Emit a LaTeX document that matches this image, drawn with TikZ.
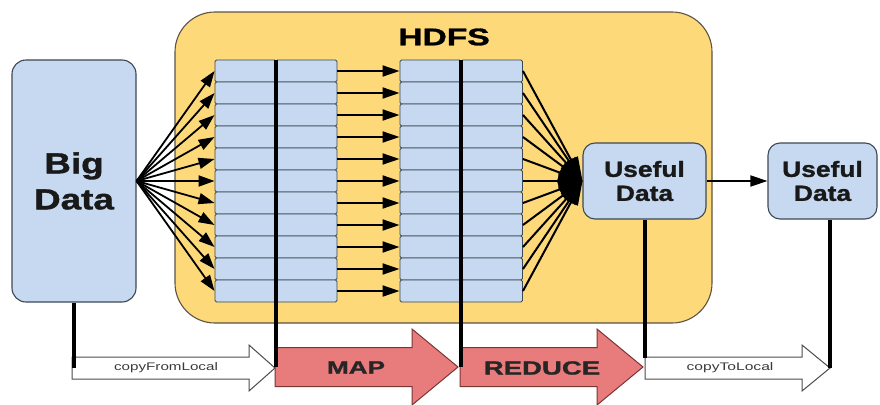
\documentclass[tikz,border=0pt]{standalone}
\usepackage{fontspec}
\setmainfont{Liberation Sans}[BoldFeatures={FakeBold=1.2}]
\usetikzlibrary{arrows.meta,calc}
\definecolor{boxblue}{HTML}{C6D9F0}
\definecolor{boxedge}{HTML}{3C4854}
\definecolor{hdfsfill}{HTML}{FDD97A}
\definecolor{hdfsedge}{HTML}{5C5444}
\definecolor{redfill}{HTML}{E87C7C}
\definecolor{rededge}{HTML}{7A3434}
\definecolor{labelgray}{HTML}{3A3A3A}
\tikzset{
  bluebox/.style={draw=boxedge, line width=1.1pt, fill=boxblue, rounded corners=14pt, inner sep=0pt, align=center, text=black!90},
  cell/.style={draw=boxedge, line width=0.9pt, fill=boxblue, rounded corners=1.5pt, minimum width=61pt, minimum height=22pt, inner sep=0pt},
  fanarrow/.style={line width=1.8pt, -{Triangle[length=16pt,width=11pt]}},
  gatherline/.style={line width=2pt, -{Triangle[length=24pt,width=15pt]}},
  midarrow/.style={line width=1.8pt, -{Triangle[length=17pt,width=11pt]}},
  thickline/.style={line width=4pt},
  bigarrow/.style={draw=rededge, line width=1pt, fill=redfill, line join=miter},
  whitearrow/.style={draw=black!70, line width=1pt, fill=white, line join=miter},
  steplabel/.style={font=\fontsize{19}{21}\selectfont\bfseries, text=black!85, inner sep=0pt},
  copylabel/.style={font=\fontsize{11}{12}\selectfont, text=labelgray, inner sep=0pt}
}
\begin{document}
\begin{tikzpicture}[x=1pt,y=-1pt]
\useasboundingbox (0,0) rectangle (880,404);

% HDFS container
\node[draw=hdfsedge, line width=1.1pt, fill=hdfsfill, rounded corners=40pt,
      minimum width=537pt, minimum height=311pt] (hdfs) at (443.5,167.5) {};
\node[font=\fontsize{24}{26}\selectfont\bfseries, inner sep=0pt] (hdfslbl) at (444,37) {\scalebox{1.4}[1]{HDFS}};

% source and result boxes
\node[bluebox, minimum width=124pt, minimum height=242pt,
      font=\fontsize{29}{36}\selectfont\bfseries] (big) at (74,181)
      {\scalebox{1.27}[1]{Big}\\\scalebox{1.27}[1]{Data}};
\node[bluebox, rounded corners=12pt, minimum width=123pt, minimum height=76pt,
      font=\fontsize{22}{24}\selectfont\bfseries] (use1) at (644.5,181)
      {\scalebox{1.2}[1]{Useful}\\\scalebox{1.2}[1]{Data}};
\node[bluebox, rounded corners=12pt, minimum width=109pt, minimum height=76pt,
      font=\fontsize{22}{24}\selectfont\bfseries] (use2) at (822.5,181)
      {\scalebox{1.2}[1]{Useful}\\\scalebox{1.2}[1]{Data}};

% block grids
\foreach \i in {1,...,11} {
  \pgfmathsetmacro{\yc}{49+22*\i}
  \node[cell] (La\i) at (245.5,\yc) {};
  \node[cell] (Lb\i) at (306.5,\yc) {};
  \node[cell] (Ra\i) at (430.5,\yc) {};
  \node[cell] (Rb\i) at (492,\yc) {};
}

% scatter, shuffle and gather
\foreach \i in {1,...,11} {
  \draw[fanarrow] (big.east) -- (La\i.west);
  \draw[midarrow] (Lb\i.east) -- (Ra\i.west);
  \draw[gatherline] (Rb\i.east) -- (use1.west);
}
\draw[line width=1.8pt, -{Triangle[length=17pt,width=11pt]}] (use1.east) -- (use2.west);

% stage arrows along the bottom
\coordinate (cfA) at (72,368);
\coordinate (cfB) at (275,368);
\coordinate (mpA) at (275,367);
\coordinate (mpB) at (458,367);
\coordinate (rdA) at (460,367);
\coordinate (rdB) at (643,367);
\coordinate (ctA) at (645,368);
\coordinate (ctB) at (830,368);

\path[whitearrow] ($(cfA)+(0,-11)$) -- ($(cfB)+(-26,-11)$) -- ($(cfB)+(-26,-23)$) -- (cfB)
  -- ($(cfB)+(-26,23)$) -- ($(cfB)+(-26,11)$) -- ($(cfA)+(0,11)$) -- cycle;
\path[bigarrow] ($(mpA)+(0,-19.5)$) -- ($(mpB)+(-46,-19.5)$) -- ($(mpB)+(-46,-38)$) -- (mpB)
  -- ($(mpB)+(-46,38)$) -- ($(mpB)+(-46,19.5)$) -- ($(mpA)+(0,19.5)$) -- cycle;
\path[bigarrow] ($(rdA)+(0,-19.5)$) -- ($(rdB)+(-46,-19.5)$) -- ($(rdB)+(-46,-38)$) -- (rdB)
  -- ($(rdB)+(-46,38)$) -- ($(rdB)+(-46,19.5)$) -- ($(rdA)+(0,19.5)$) -- cycle;
\path[whitearrow] ($(ctA)+(0,-11)$) -- ($(ctB)+(-28,-11)$) -- ($(ctB)+(-28,-23)$) -- (ctB)
  -- ($(ctB)+(-28,23)$) -- ($(ctB)+(-28,11)$) -- ($(ctA)+(0,11)$) -- cycle;

\node[copylabel] (cflbl) at (166,368) {\scalebox{1.38}[1]{copyFromLocal}};
\node[steplabel, font=\fontsize{18}{20}\selectfont\bfseries] (mplbl) at (356,367.5) {\scalebox{1.45}[1]{MAP}};
\node[steplabel] (rdlbl) at (542,368) {\scalebox{1.45}[1]{REDUCE}};
\node[copylabel] (ctlbl) at (730,368) {\scalebox{1.42}[1]{copyToLocal}};

% phase markers
\draw[thickline] (big.south) -- (big.south |- cfA);
\draw[thickline] (La1.north east) -- (La1.north east |- mpA);
\draw[thickline] (Ra1.north east) -- (Ra1.north east |- rdA);
\draw[thickline] (use1.south) -- ($(use1.south |- ctA)+(0,-10)$);
\draw[thickline] (use2.south -| ctB) -- (ctB);
\end{tikzpicture}
\end{document}
